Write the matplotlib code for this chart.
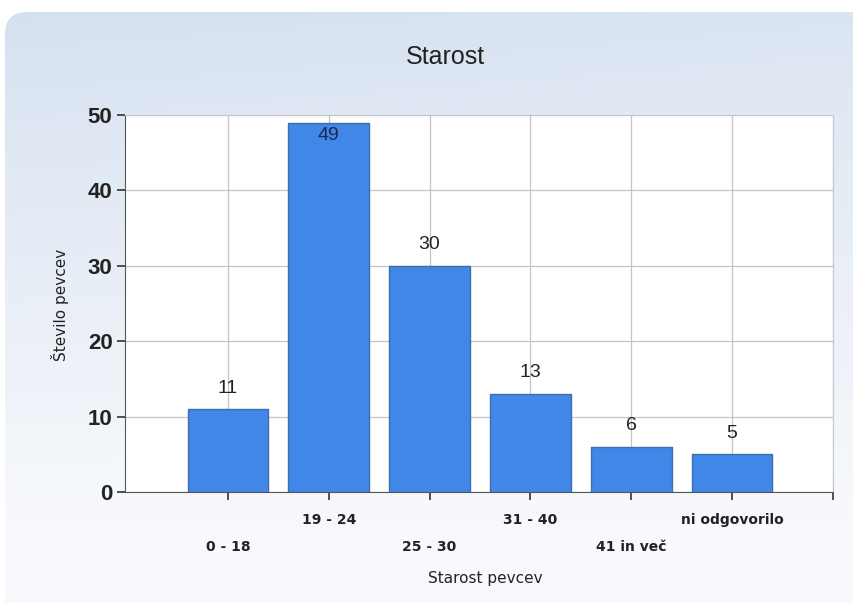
import numpy as np
import matplotlib
matplotlib.use("Agg")
import matplotlib.pyplot as plt
from matplotlib.patches import FancyBboxPatch

# podatki
kategorije = ["0 - 18", "19 - 24", "25 - 30", "31 - 40", "41 in več", "ni odgovorilo"]
stevilo = [11, 49, 30, 13, 6, 5]

naslov = "Starost"
x_oznaka = "Starost pevcev"
y_oznaka = "Število pevcev"

ozki = ["Liberation Sans Narrow", "Liberation Sans", "DejaVu Sans"]

fig = plt.figure(figsize=(8.54, 6.03), dpi=100)
fig.patch.set_facecolor("white")

#%% ozadje - zaobljen panel z gradientom
bg = fig.add_axes([0, 0, 1, 1], zorder=0)
bg.set_xlim(0, 854)
bg.set_ylim(603, 0)
bg.axis("off")
panel = FancyBboxPatch((5, 12), 900, 640, boxstyle="round,pad=0,rounding_size=22",
                       facecolor="none", edgecolor="none")
bg.add_patch(panel)
gy = np.linspace(0, 1, 256)[:, None]
gx = np.linspace(0, 1, 256)[None, :]
top = np.array([0.835, 0.88, 0.94])
bot = np.array([0.975, 0.98, 0.99])
t = np.clip(gy * 1.1, 0, 1) ** 0.9
t = t + 0.15 * gx * (1 - t)
t = np.clip(t, 0, 1)
img = top[None, None, :] * (1 - t[..., None]) + bot[None, None, :] * t[..., None]
im = bg.imshow(img, extent=(5, 854, 603, 12), aspect="auto", interpolation="bilinear")
im.set_clip_path(panel)

#%% graf
ax = fig.add_axes([0.1464, 0.1841, 0.8290, 0.6252], zorder=1)
ax.set_facecolor("white")
x = np.arange(len(kategorije))
bars = ax.bar(x, stevilo, width=0.8, color="#4187e8", edgecolor="#3f6faa",
              linewidth=1.0, zorder=3)

ax.set_xlim(-1.02, 6.0)
ax.set_ylim(0, 50)
ax.set_yticks([0, 10, 20, 30, 40, 50])
ax.set_xticks(list(x) + [6.0])
ax.set_xticklabels([""] * (len(kategorije) + 1))
ax.grid(True, color="#c4c4c4", linewidth=0.9, zorder=0)
for s in ["top", "right"]:
    ax.spines[s].set_color("#c8c8c8")
for s in ["left", "bottom"]:
    ax.spines[s].set_color("#555555")
ax.tick_params(axis="y", length=6, width=1.2, color="#333333", pad=3)
ax.tick_params(axis="x", length=6, width=1.2, color="#333333", direction="out")
for lab in ax.get_yticklabels():
    lab.set_family(ozki)
    lab.set_fontsize(16)
    lab.set_fontweight("bold")
    lab.set_color("#222222")

# oznake kategorij v dveh vrstah
for i, k in enumerate(kategorije):
    off = -28 if i % 2 == 1 else -55
    ax.annotate(k, (x[i], 0), xytext=(0, off), textcoords="offset pixels",
                ha="center", va="center", fontsize=10, fontweight="bold",
                family="DejaVu Sans", color="#222222")

# vrednosti nad stolpci
for i, v in enumerate(stevilo):
    if v > 45:
        ax.annotate(str(v), (x[i], v), xytext=(0, -13), textcoords="offset pixels",
                    ha="center", va="center", fontsize=14, family=ozki, color="#1b2a4a", zorder=4)
    else:
        ax.annotate(str(v), (x[i], v), xytext=(0, 21), textcoords="offset pixels",
                    ha="center", va="center", fontsize=14, family=ozki, color="#222222", zorder=4)

fig.text(445 / 854, 1 - 57 / 603, naslov, ha="center", va="center",
         fontsize=18, family=ozki, color="#222222")
fig.text(485 / 854, 1 - 578 / 603, x_oznaka, ha="center", va="center",
         fontsize=11, family="DejaVu Sans", color="#222222")
fig.text(60 / 854, 1 - 305 / 603, y_oznaka, ha="center", va="center", rotation=90,
         fontsize=11, family="DejaVu Sans", color="#222222")

fig.savefig("out.png", dpi=100)
